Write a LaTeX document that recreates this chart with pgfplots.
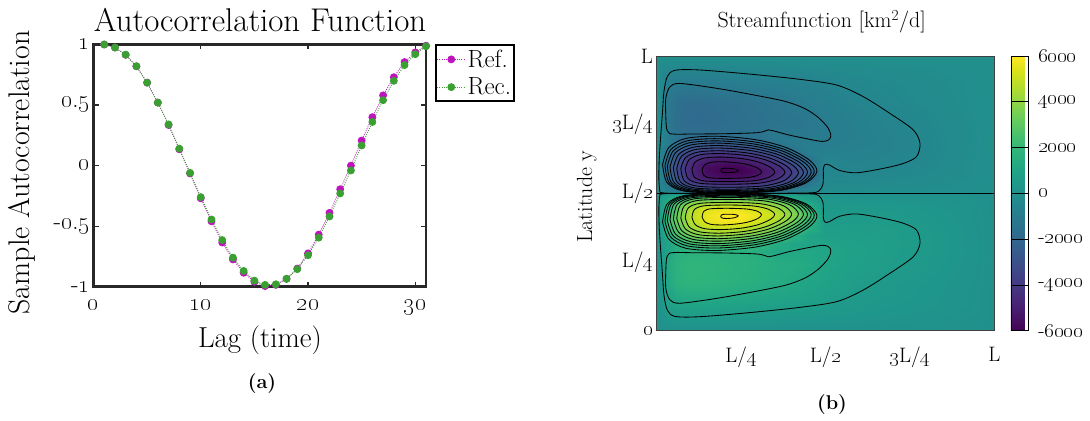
\documentclass[border=0pt]{standalone}
\usepackage{pgfplots}
\usepackage{pgfplotstable}
\pgfplotsset{compat=1.18}

\definecolor{refc}{RGB}{190,20,190}
\definecolor{recc}{RGB}{58,160,50}
\definecolor{framec}{RGB}{40,40,40}
\newcommand\os[1]{\oldstylenums{#1}}

% sample autocorrelation, reference and reconstruction
\pgfplotstableread{
lag ref rec
1 1.000 1.000
2 0.975 0.975
3 0.915 0.915
4 0.820 0.820
5 0.685 0.685
6 0.520 0.520
7 0.335 0.340
8 0.135 0.140
9 -0.065 -0.060
10 -0.270 -0.260
11 -0.460 -0.445
12 -0.635 -0.615
13 -0.775 -0.760
14 -0.885 -0.870
15 -0.960 -0.950
16 -0.995 -0.985
17 -0.985 -0.980
18 -0.935 -0.935
19 -0.850 -0.855
20 -0.725 -0.740
21 -0.570 -0.595
22 -0.390 -0.420
23 -0.195 -0.230
24 0.000 -0.040
25 0.207 0.166
26 0.400 0.360
27 0.580 0.540
28 0.730 0.700
29 0.855 0.830
30 0.935 0.920
31 0.990 0.985
}\acf

% streamfunction, southern half of the basin (northern half is antisymmetric)
\pgfplotstableread{
x y z
0 0 0
0.01 0 0
0.03 0 0
0.06 0 0
0.1 0 0
0.15 0 0
0.2 0 0
0.25 0 0
0.3 0 0
0.35 0 0
0.4 0 0
0.45 0 0
0.5 0 0
0.55 0 0
0.6 0 0
0.7 0 0
0.8 0 0
0.9 0 0
1 0 0
0 0.04 0
0.01 0.04 150
0.03 0.04 300
0.06 0.04 400
0.1 0.04 420
0.15 0.04 420
0.2 0.04 400
0.25 0.04 380
0.3 0.04 360
0.35 0.04 340
0.4 0.04 320
0.45 0.04 300
0.5 0.04 280
0.55 0.04 260
0.6 0.04 240
0.7 0.04 190
0.8 0.04 140
0.9 0.04 70
1 0.04 0
0 0.1 0
0.01 0.1 250
0.03 0.1 850
0.06 0.1 1050
0.1 0.1 1080
0.15 0.1 1050
0.2 0.1 1000
0.25 0.1 950
0.3 0.1 900
0.35 0.1 850
0.4 0.1 790
0.45 0.1 720
0.5 0.1 640
0.55 0.1 500
0.6 0.1 440
0.7 0.1 350
0.8 0.1 260
0.9 0.1 140
1 0.1 0
0 0.17 0
0.01 0.17 280
0.03 0.17 1150
0.06 0.17 1650
0.1 0.17 1800
0.15 0.17 1750
0.2 0.17 1650
0.25 0.17 1550
0.3 0.17 1450
0.35 0.17 1330
0.4 0.17 1200
0.45 0.17 1000
0.5 0.17 880
0.55 0.17 750
0.6 0.17 580
0.7 0.17 430
0.8 0.17 300
0.9 0.17 160
1 0.17 0
0 0.24 0
0.01 0.24 300
0.03 0.24 1200
0.06 0.24 1700
0.1 0.24 1850
0.15 0.24 1850
0.2 0.24 1750
0.25 0.24 1650
0.3 0.24 1550
0.35 0.24 1450
0.4 0.24 1350
0.45 0.24 1250
0.5 0.24 1000
0.55 0.24 880
0.6 0.24 780
0.7 0.24 570
0.8 0.24 400
0.9 0.24 220
1 0.24 0
0 0.29 0
0.01 0.29 450
0.03 0.29 1000
0.06 0.29 1500
0.1 0.29 1650
0.15 0.29 1650
0.2 0.29 1600
0.25 0.29 1550
0.3 0.29 1450
0.35 0.29 1150
0.4 0.29 1150
0.45 0.29 1150
0.5 0.29 1050
0.55 0.29 900
0.6 0.29 820
0.7 0.29 620
0.8 0.29 450
0.9 0.29 250
1 0.29 0
0 0.32 0
0.01 0.32 480
0.03 0.32 900
0.06 0.32 1580
0.1 0.32 2300
0.15 0.32 2620
0.2 0.32 2680
0.25 0.32 2420
0.3 0.32 2060
0.35 0.32 1400
0.4 0.32 1050
0.45 0.32 950
0.5 0.32 950
0.55 0.32 850
0.6 0.32 780
0.7 0.32 640
0.8 0.32 470
0.9 0.32 240
1 0.32 0
0 0.35 0
0.01 0.35 500
0.03 0.35 1450
0.06 0.35 2620
0.1 0.35 3420
0.15 0.35 3940
0.2 0.35 4075
0.25 0.35 3770
0.3 0.35 3380
0.35 0.35 2740
0.4 0.35 1720
0.45 0.35 950
0.5 0.35 780
0.55 0.35 730
0.6 0.35 700
0.7 0.35 620
0.8 0.35 450
0.9 0.35 230
1 0.35 0
0 0.38 0
0.01 0.38 650
0.03 0.38 1820
0.06 0.38 3070
0.1 0.38 4380
0.15 0.38 5080
0.2 0.38 5320
0.25 0.38 5140
0.3 0.38 4610
0.35 0.38 3870
0.4 0.38 2880
0.45 0.38 1590
0.5 0.38 600
0.55 0.38 640
0.6 0.38 650
0.7 0.38 580
0.8 0.38 420
0.9 0.38 220
1 0.38 0
0 0.4 0
0.01 0.4 700
0.03 0.4 2130
0.06 0.4 3290
0.1 0.4 4610
0.15 0.4 5590
0.2 0.4 5850
0.25 0.4 5790
0.3 0.4 5260
0.35 0.4 4520
0.4 0.4 3490
0.45 0.4 1920
0.5 0.4 480
0.55 0.4 560
0.6 0.4 580
0.7 0.4 520
0.8 0.4 380
0.9 0.4 200
1 0.4 0
0 0.42 0
0.01 0.42 640
0.03 0.42 1920
0.06 0.42 3320
0.1 0.42 4680
0.15 0.42 5640
0.2 0.42 6150
0.25 0.42 6010
0.3 0.42 5590
0.35 0.42 4900
0.4 0.42 3850
0.45 0.42 2500
0.5 0.42 450
0.55 0.42 500
0.6 0.42 520
0.7 0.42 450
0.8 0.42 350
0.9 0.42 190
1 0.42 0
0 0.44 0
0.01 0.44 600
0.03 0.44 1650
0.06 0.44 3090
0.1 0.44 4540
0.15 0.44 5450
0.2 0.44 5640
0.25 0.44 5590
0.3 0.44 5270
0.35 0.44 4600
0.4 0.44 3580
0.45 0.44 2010
0.5 0.44 420
0.55 0.44 430
0.6 0.44 430
0.7 0.44 380
0.8 0.44 300
0.9 0.44 170
1 0.44 0
0 0.46 0
0.01 0.46 620
0.03 0.46 1420
0.06 0.46 2850
0.1 0.46 3870
0.15 0.46 4480
0.2 0.46 4740
0.25 0.46 4600
0.3 0.46 4420
0.35 0.46 3880
0.4 0.46 3060
0.45 0.46 1360
0.5 0.46 400
0.55 0.46 380
0.6 0.46 360
0.7 0.46 320
0.8 0.46 250
0.9 0.46 130
1 0.46 0
0 0.48 0
0.01 0.48 600
0.03 0.48 1000
0.06 0.48 1400
0.1 0.48 2890
0.15 0.48 3240
0.2 0.48 3490
0.25 0.48 3450
0.3 0.48 3240
0.35 0.48 2770
0.4 0.48 1300
0.45 0.48 800
0.5 0.48 300
0.55 0.48 250
0.6 0.48 230
0.7 0.48 200
0.8 0.48 150
0.9 0.48 80
1 0.48 0
0 0.49 0
0.01 0.49 400
0.03 0.49 800
0.06 0.49 1200
0.1 0.49 2000
0.15 0.49 2360
0.2 0.49 2640
0.25 0.49 2520
0.3 0.49 2170
0.35 0.49 1670
0.4 0.49 1000
0.45 0.49 700
0.5 0.49 200
0.55 0.49 180
0.6 0.49 160
0.7 0.49 140
0.8 0.49 100
0.9 0.49 50
1 0.49 0
0 0.5 0
0.01 0.5 0
0.03 0.5 0
0.06 0.5 0
0.1 0.5 0
0.15 0.5 0
0.2 0.5 0
0.25 0.5 0
0.3 0.5 0
0.35 0.5 0
0.4 0.5 0
0.45 0.5 0
0.5 0.5 0
0.55 0.5 0
0.6 0.5 0
0.7 0.5 0
0.8 0.5 0
0.9 0.5 0
1 0.5 0
}\psisouth

% contour lines of the southern gyre (the northern ones are their mirror images)
\pgfplotstableread{
x y
0.010 0.496
0.007 0.45
0.008 0.38
0.012 0.30
0.018 0.20
0.022 0.13
0.032 0.075
0.055 0.052
0.129 0.051
0.277 0.066
0.425 0.085
0.534 0.106
0.612 0.148
0.691 0.209
0.760 0.269
0.780 0.318
0.770 0.366
0.731 0.391
0.672 0.409
0.593 0.425
0.543 0.417
0.512 0.397
0.499 0.395
0.494 0.41
0.494 0.44
0.492 0.47
0.480 0.492
0.450 0.4985
0.300 0.4996
0.100 0.4996
0.030 0.4993
0.010 0.496
}\cA
\pgfplotstableread{
x y
0.040 0.283
0.030 0.265
0.027 0.20
0.028 0.15
0.040 0.112
0.070 0.100
0.180 0.118
0.280 0.140
0.380 0.165
0.440 0.192
0.480 0.225
0.508 0.262
0.516 0.290
0.510 0.305
0.490 0.311
0.440 0.300
0.390 0.287
0.345 0.272
0.331 0.269
0.300 0.279
0.200 0.283
0.100 0.284
0.060 0.285
0.040 0.283
}\cB
\pgfplotstableread{
x y
0.190 0.416
0.192 0.4116
0.198 0.4091
0.208 0.4085
0.221 0.4094
0.232 0.4116
0.239 0.415
0.242 0.418
0.238 0.4212
0.229 0.4234
0.213 0.424
0.198 0.4235
0.192 0.4212
0.190 0.416
}\ja
\pgfplotstableread{
x y
0.135 0.415
0.142 0.397
0.1614 0.387
0.1966 0.385
0.2406 0.389
0.2758 0.397
0.3022 0.410
0.311 0.423
0.2987 0.435
0.267 0.443
0.2142 0.4455
0.1614 0.444
0.1403 0.435
0.135 0.415
}\jb
\pgfplotstableread{
x y
0.105 0.4128
0.1148 0.3859
0.1418 0.3716
0.1908 0.368
0.252 0.3734
0.301 0.3859
0.3378 0.4056
0.350 0.4235
0.3329 0.4414
0.2888 0.4539
0.2153 0.4575
0.1418 0.4548
0.1124 0.4414
0.105 0.4128
}\jc
\pgfplotstableread{
x y
0.085 0.411
0.0968 0.3774
0.1293 0.3595
0.1883 0.355
0.262 0.3617
0.321 0.3774
0.3653 0.402
0.380 0.4244
0.3594 0.4468
0.3063 0.4625
0.2178 0.467
0.1293 0.4636
0.0939 0.4468
0.085 0.411
}\jd
\pgfplotstableread{
x y
0.072 0.41
0.0851 0.371
0.1212 0.3502
0.1868 0.345
0.2688 0.3528
0.3344 0.371
0.3836 0.3996
0.400 0.4256
0.377 0.4541
0.318 0.4727
0.2196 0.478
0.1212 0.474
0.0818 0.4541
0.072 0.41
}\je
\pgfplotstableread{
x y
0.060 0.4085
0.0744 0.3644
0.114 0.3409
0.186 0.335
0.276 0.3438
0.348 0.3644
0.402 0.3967
0.420 0.4261
0.3948 0.458
0.330 0.479
0.222 0.485
0.114 0.4805
0.0708 0.458
0.060 0.4085
}\jf
\pgfplotstableread{
x y
0.050 0.4065
0.0654 0.3582
0.1078 0.3324
0.1848 0.326
0.281 0.3357
0.358 0.3582
0.4158 0.3936
0.435 0.4258
0.408 0.4601
0.3388 0.483
0.2233 0.4895
0.1078 0.4846
0.0616 0.4601
0.050 0.4065
}\jg
\pgfplotstableread{
x y
0.040 0.404
0.0563 0.3518
0.1011 0.324
0.1825 0.317
0.2842 0.3274
0.3656 0.3518
0.4267 0.3901
0.447 0.4249
0.4185 0.4613
0.3453 0.486
0.2232 0.493
0.1011 0.4877
0.0522 0.4613
0.040 0.404
}\jh
\pgfplotstableread{
x y
0.032 0.4015
0.049 0.346
0.0959 0.3164
0.1811 0.309
0.2876 0.3201
0.3728 0.346
0.4367 0.3867
0.458 0.4237
0.4282 0.4619
0.3515 0.488
0.2237 0.4955
0.0959 0.490
0.0448 0.4619
0.032 0.4015
}\ji
\pgfplotstableread{
x y
0.025 0.3988
0.0427 0.3401
0.0913 0.3088
0.1797 0.301
0.2902 0.3127
0.3786 0.3401
0.4449 0.3831
0.467 0.4222
0.4361 0.4621
0.3565 0.4896
0.2239 0.4975
0.0913 0.4916
0.0383 0.4621
0.025 0.3988
}\jj
\pgfplotstableread{
x y
0.018 0.395
0.0363 0.3332
0.0866 0.3002
0.178 0.292
0.2922 0.3044
0.3836 0.3332
0.4522 0.3785
0.475 0.4197
0.443 0.4617
0.3608 0.4907
0.2237 0.499
0.0866 0.4928
0.0317 0.4617
0.018 0.395
}\jk

\pgfplotsset{cline/.style={black, line width=0.85bp, smooth, tension=0.5}}
\newcommand\contourpair[1]{%
  \addplot[cline] table[x index=0, y index=1] {#1};
  \addplot[cline] table[x index=0, y expr=1-\thisrowno{1}] {#1};
}

\begin{document}
\begin{tikzpicture}
\path[use as bounding box] (0bp,0bp) rectangle (1090bp,421bp);

% ---------------- (a) autocorrelation ----------------
\begin{axis}[
  at={(93.5bp,134.3bp)}, anchor=south west,
  scale only axis, width=332.5bp, height=242.2bp,
  xmin=0, xmax=31, ymin=-1, ymax=1,
  clip=false,
  axis line style={framec, line width=2.4bp},
  tick style={framec, line width=1.1bp},
  tick align=inside, major tick length=5bp,
  xtick={0,10,20,30},
  xticklabels={\os{0},\os{10},\os{20},\os{30}},
  ytick={-1,-0.5,0,0.5,1},
  yticklabels={-\os{1},-\os{0}.\os{5},\os{0},\os{0}.\os{5},\os{1}},
  ticklabel style={font=\fontsize{24.88}{27}\selectfont},
  xticklabel style={yshift=-10bp},
  legend cell align=left,
  legend style={at={(1.027,1.002)}, anchor=north west, draw=black,
    line width=1.8bp, font=\fontsize{25}{27}\selectfont,
    inner xsep=1bp, inner ysep=3bp, row sep=5bp},
  legend image code/.code={%
    \draw[mark repeat=2, mark phase=2, #1] plot coordinates {(0bp,0bp) (14bp,0bp) (28bp,0bp)};},
]
\addplot[refc, line width=0.8bp, dash pattern=on 1bp off 1.2bp, mark=*, mark size=3.5bp,
  mark options={solid, fill=refc, draw=refc}] table[x=lag, y=ref] {\acf};
\addlegendentry{Ref.}
\addplot[recc, line width=0.8bp, dash pattern=on 1bp off 1.2bp, mark=*, mark size=3.5bp,
  mark options={solid, fill=recc, draw=recc}] table[x=lag, y=rec] {\acf};
\addlegendentry{Rec.}
\end{axis}

% ---------------- (b) streamfunction: colour field ----------------
\begin{axis}[
  at={(656.5bp,90.3bp)}, anchor=south west,
  scale only axis, width=337.8bp, height=274.7bp,
  view={0}{90},
  xmin=0, xmax=1, ymin=0, ymax=1, ztick=\empty,
  xtick={0.25,0.5,0.75,1},
  xticklabels={L/\os{4},L/\os{2},\os{3}L/\os{4},L},
  ytick={0,0.25,0.5,0.75,1},
  yticklabels={\os{0},L/\os{4},L/\os{2},\os{3}L/\os{4},L},
  major tick length=0pt,
  axis line style={black!75, line width=0.7bp},
  ticklabel style={font=\fontsize{21}{23}\selectfont},
  xticklabel style={yshift=-13bp},
  colormap/viridis,
  point meta min=-6000, point meta max=6000,
  colorbar,
  colorbar style={
    at={(parent axis.north east)}, anchor=north west, xshift=8bp,
    scale only axis, width=17bp, height=274.7bp,
    ytick={-6000,-4000,-2000,0,2000,4000,6000},
    yticklabels={-\os{6000},-\os{4000},-\os{2000},\os{0},\os{2000},\os{4000},\os{6000}},
    ytick pos=right, tick align=inside, major tick length=17bp,
    tick style={black, line width=0.6bp},
    axis line style={black, line width=0.6bp},
    yticklabel style={font=\fontsize{21}{23}\selectfont, xshift=7bp},
  },
]
\addplot3[surf, shader=interp, mesh/rows=16, mesh/cols=19, point meta=z]
  table[x=x, y=y, z=z] {\psisouth};
\addplot3[surf, shader=interp, mesh/rows=16, mesh/cols=19, point meta=z]
  table[x=x, y expr=1-\thisrow{y}, z expr=-\thisrow{z}] {\psisouth};
\end{axis}

% ---------------- (b) streamfunction: contour lines ----------------
\begin{axis}[
  at={(656.5bp,90.3bp)}, anchor=south west,
  scale only axis, width=337.8bp, height=274.7bp,
  xmin=0, xmax=1, ymin=0, ymax=1, hide axis,
]
\contourpair{\cA}
\contourpair{\cB}
\contourpair{\jk}
\contourpair{\jj}
\contourpair{\ji}
\contourpair{\jh}
\contourpair{\jg}
\contourpair{\jf}
\contourpair{\je}
\contourpair{\jd}
\contourpair{\jc}
\contourpair{\jb}
\contourpair{\ja}
\addplot[black, line width=0.85bp] coordinates {(0,0.5) (1,0.5)};
\end{axis}

% titles and labels
\node[font=\fontsize{33}{36}\selectfont, anchor=base] at (260bp,389.3bp) {Autocorrelation Function};
\node[font=\fontsize{30}{33}\selectfont, rotate=90] at (21.5bp,248.5bp) {Sample Autocorrelation};
\node[font=\fontsize{29}{32}\selectfont] at (260bp,81bp) {Lag (time)};
\node[font=\fontsize{20}{22}\selectfont\bfseries] at (262bp,37bp) {(a)};
\node[font=\fontsize{22}{24}\selectfont] at (821.7bp,399.3bp) {Streamfunction [km\textsuperscript{2}/d]};
\node[font=\fontsize{22}{24}\selectfont, rotate=90] at (586.7bp,224.3bp) {Latitude y};
\node[font=\fontsize{20}{22}\selectfont\bfseries] at (832bp,16bp) {(b)};
\end{tikzpicture}
\end{document}
